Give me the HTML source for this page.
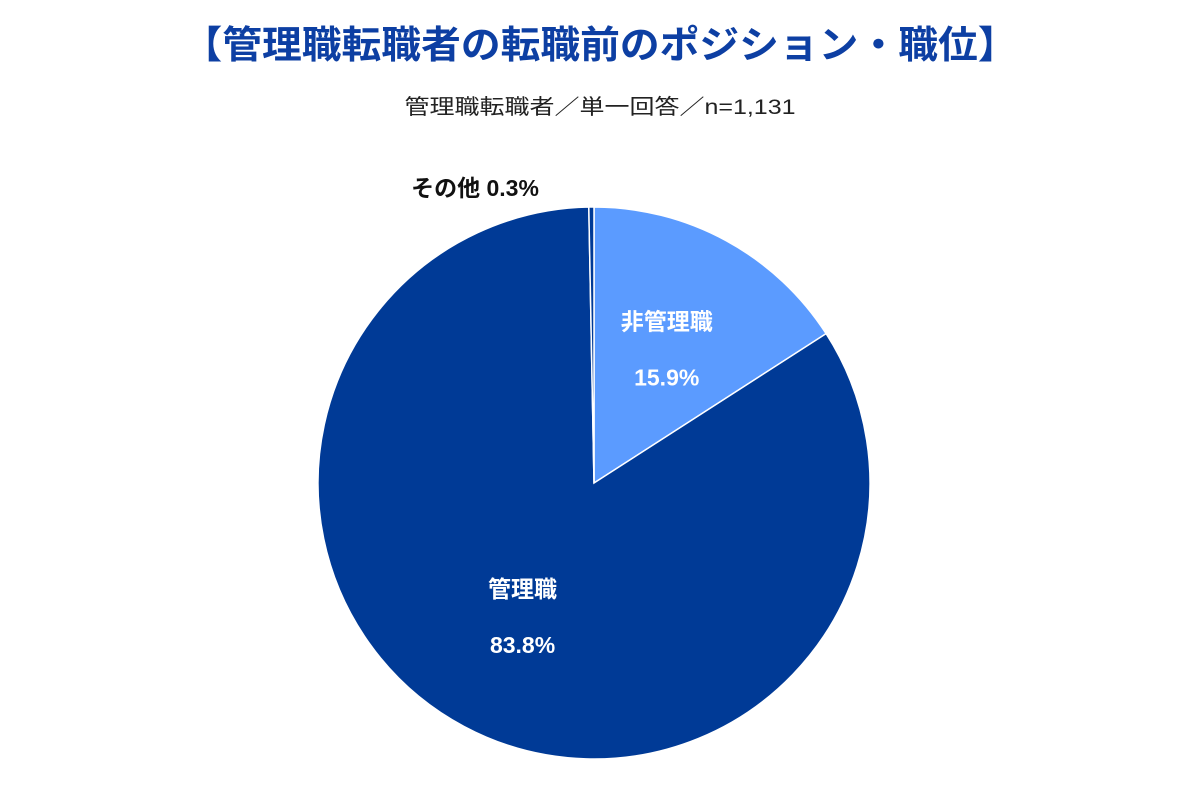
<!DOCTYPE html>
<html><head><meta charset="utf-8"><style>
html,body{margin:0;padding:0;background:#fff;}
svg{display:block;font-family:"Liberation Sans","Noto Sans CJK JP",sans-serif;}
</style></head><body>
<svg width="1200" height="800" viewBox="0 0 1200 800">
<text x="600" y="58" text-anchor="middle" font-size="38" font-weight="bold" fill="#0d3fa3" textLength="835" lengthAdjust="spacingAndGlyphs">【管理職転職者の転職前のポジション・職位】</text>
<text x="600" y="114" text-anchor="middle" font-size="21" fill="#222" textLength="391" lengthAdjust="spacingAndGlyphs">管理職転職者／単一回答／n=1,131</text>
<g id="slices"></g>
<g id="labels"></g>
</svg>
<script>
const categories = ["非管理職", "管理職", "その他"];
const values = [15.9, 83.8, 0.3];
const colors = ["#5b9bff", "#003a96", "#003a96"];
const valueLabels = ["15.9%", "83.8%", "0.3%"];
const cx = 594, cy = 483, r = 276;
const ns = "http://www.w3.org/2000/svg";
const total = values.reduce((a,b)=>a+b,0);
const gS = document.getElementById("slices");
const gL = document.getElementById("labels");
function pt(a, rr){ return [cx + rr*Math.sin(a), cy - rr*Math.cos(a)]; }
let acc = 0;
values.forEach((v,i)=>{
  const a0 = acc/total*2*Math.PI; acc += v;
  const a1 = acc/total*2*Math.PI;
  const p0 = pt(a0,r), p1 = pt(a1,r);
  const large = (a1-a0) > Math.PI ? 1 : 0;
  const p = document.createElementNS(ns,"path");
  p.setAttribute("d",`M${cx},${cy} L${p0[0]},${p0[1]} A${r},${r} 0 ${large} 1 ${p1[0]},${p1[1]} Z`);
  p.setAttribute("fill",colors[i]);
  p.setAttribute("stroke","#fff");
  p.setAttribute("stroke-width","1.5");
  
  
  gS.appendChild(p);
  const mid = (a0+a1)/2;
  if (v > 5) {
    const lp = pt(mid, r*0.55);
    [categories[i], valueLabels[i]].forEach((t,j)=>{
      const tx = document.createElementNS(ns,"text");
      tx.setAttribute("x", lp[0]);
      tx.setAttribute("y", lp[1] - 20 + j*56);
      tx.setAttribute("text-anchor","middle");
      tx.setAttribute("font-size","23");
      tx.setAttribute("font-weight","bold");
      tx.setAttribute("fill","#fff");
      tx.textContent = t;
      
      
      gL.appendChild(tx);
    });
  } else {
    const tx = document.createElementNS(ns,"text");
    tx.setAttribute("x", 475);
    tx.setAttribute("y", 196);
    tx.setAttribute("text-anchor","middle");
    tx.setAttribute("font-size","23");
    tx.setAttribute("font-weight","bold");
    tx.setAttribute("fill","#111");
    tx.textContent = categories[i] + " " + valueLabels[i];
    
    
    gL.appendChild(tx);
  }
});
</script>
</body></html>
